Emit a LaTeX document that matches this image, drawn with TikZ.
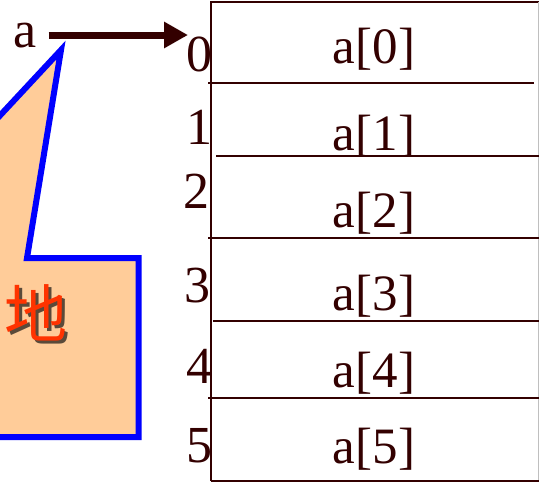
\documentclass[tikz,border=0pt]{standalone}
\usepackage{fontspec}
\setmainfont{Liberation Serif}
\newfontfamily\cjk{Noto Sans CJK SC}
\usetikzlibrary{arrows.meta}
\definecolor{ink}{HTML}{330000}
\definecolor{peach}{HTML}{FFCC99}
\definecolor{callred}{HTML}{FF3300}
\definecolor{shade}{HTML}{5A4A3A}
\tikzset{
  idx/.style={inner sep=0pt, anchor=base, text=ink, font=\fontsize{52}{52}\selectfont},
  cell/.style={inner sep=0pt, anchor=base, text=ink, font=\fontsize{51}{51}\selectfont},
  rowline/.style={draw=ink, line width=2pt},
  callout/.style={draw=blue, fill=peach, line width=6pt, line join=miter, miter limit=20},
  ptr/.style={draw=ink, line width=7pt, -{Triangle[length=24pt,width=25pt]}},
}
\newcommand\shadowtext[1]{\rlap{\hspace{3pt}\raisebox{-3pt}{\color{shade}#1}}#1}
\begin{document}
\begin{tikzpicture}[x=1pt,y=-1pt]
\useasboundingbox (0,0) rectangle (539,483);
\clip (0,0) rectangle (539,483);
\fill[white] (0,0) rectangle (539,483);
% callout
\draw[callout] (61,50) -- (27,258) -- (138.5,258) -- (138.5,437) -- (-20,437) -- (-20,137) -- cycle;
\node[inner sep=0pt, anchor=base east, text=callred, font=\cjk\fontsize{63}{63}\selectfont] (addr) at (68,337) {\shadowtext{地}};
% array box
\draw[draw=ink, line width=1.6pt] (211,481) -- (211,2) -- (539,2);
\draw[draw=black!25, line width=1pt] (538,2) -- (538,481);
\draw[rowline] (208,83) -- (534,83);
\draw[rowline] (216,156) -- (539,156);
\draw[rowline] (208,238) -- (539,238);
\draw[rowline] (213,321) -- (539,321);
\draw[rowline] (208,398) -- (539,398);
\draw[rowline] (211,481) -- (539,481);
% indices
\node[idx] (i0) at (199.5,71) {0};
\node[idx] (i1) at (199,144) {1};
\node[idx] (i2) at (196,208) {2};
\node[idx] (i3) at (197,302) {3};
\node[idx] (i4) at (199,383) {4};
\node[idx] (i5) at (199,462) {5};
% cells
\node[cell] (c0) at (374,63) {a[0]};
\node[cell] (c1) at (374,150) {a[1]};
\node[cell] (c2) at (374,227) {a[2]};
\node[cell] (c3) at (374,310) {a[3]};
\node[cell] (c4) at (374,387) {a[4]};
\node[cell] (c5) at (374,463) {a[5]};
% pointer
\node[idx, anchor=base] (aname) at (25,47) {a};
\coordinate (tgt) at (188,35);
\draw[ptr] (aname.east |- tgt) ++(12,0) -- (tgt);
\end{tikzpicture}
\end{document}
